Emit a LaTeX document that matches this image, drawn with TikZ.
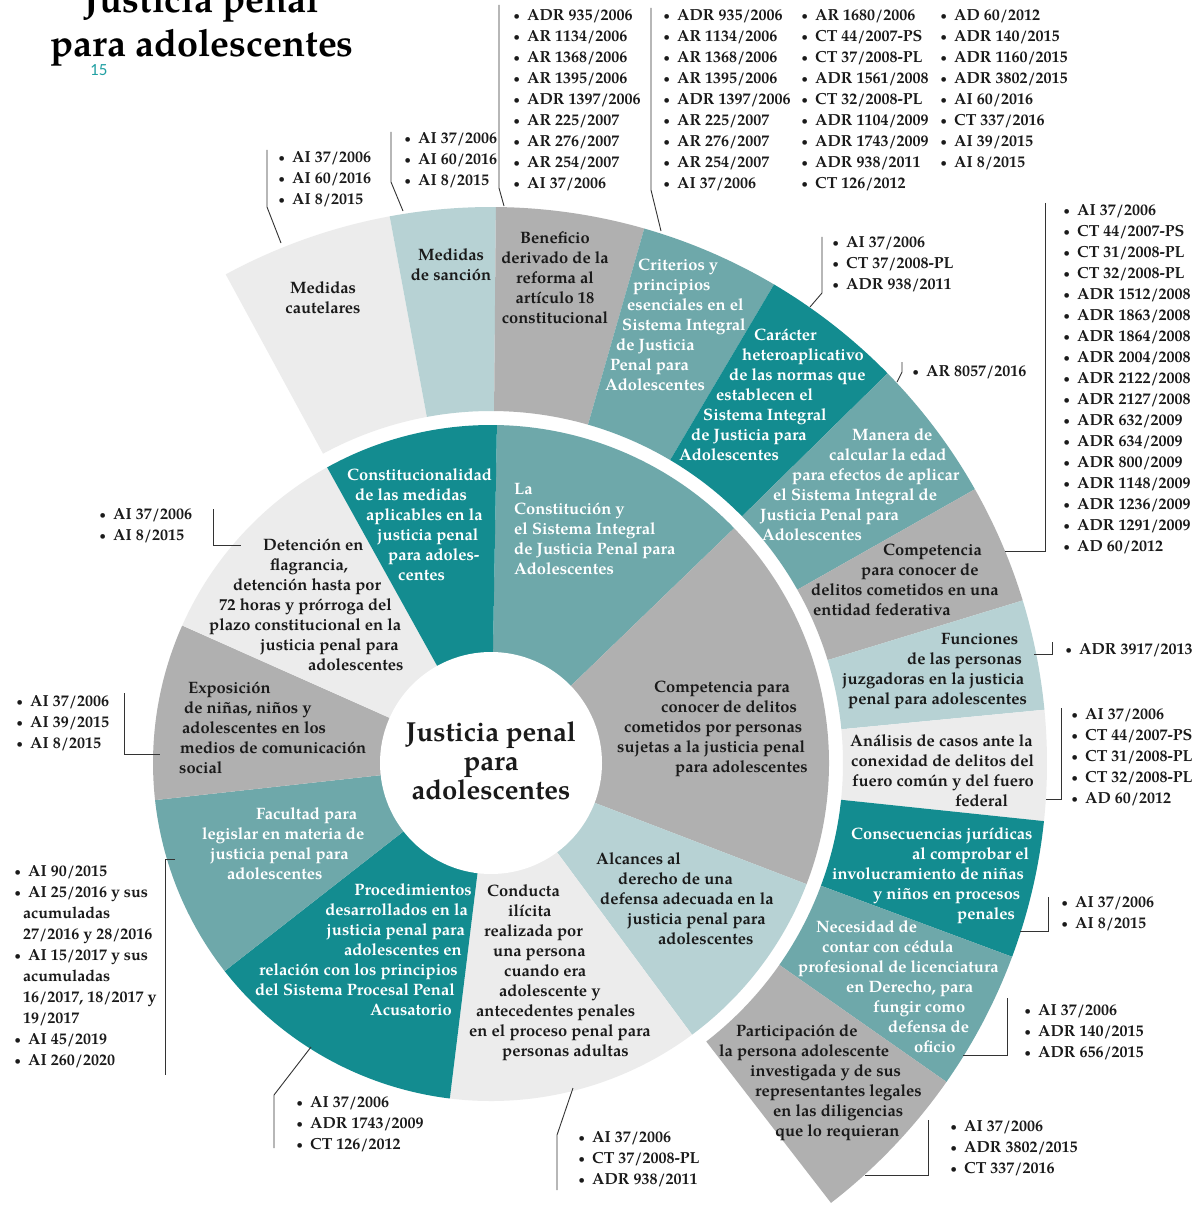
\documentclass[tikz,border=0pt]{standalone}
\usepackage{fontspec}
\setmainfont{TeX Gyre Pagella}
\newfontfamily\notefont{Carlito}
\definecolor{dteal}{HTML}{138C90}
\definecolor{mteal}{HTML}{6EA8AA}
\definecolor{lblue}{HTML}{B7D2D4}
\definecolor{mgray}{HTML}{B0B0B0}
\definecolor{lgray}{HTML}{ECECEC}
\definecolor{txt}{HTML}{1A1A1A}
\definecolor{linec}{HTML}{333333}
\definecolor{notec}{HTML}{22A0A3}
\tikzset{
 lbl/.style={inner sep=0pt, anchor=north west, align=left, yshift=-2.5pt, font=\fontsize{16.5}{20}\selectfont\bfseries},
 wl/.style={lbl, text=white},
 bl/.style={lbl, text=txt},
 lst/.style={inner sep=0pt, anchor=north west, align=left, yshift=-2.5pt, font=\fontsize{16}{21}\selectfont\bfseries, text=txt},
 conn/.style={draw=linec, line width=0.9pt},
}
\newcommand\sector[5]{\fill[#5] (#1:#3) arc[start angle=#1,end angle=#2,radius=#3] -- (#2:#4) arc[start angle=#2,end angle=#1,radius=#4] -- cycle;}
\newcommand\bu[1]{\makebox[14pt][l]{\hspace{0.5pt}\raisebox{1.6pt}{\fontsize{10.5}{10.5}\selectfont\textbullet}}#1}
\newcommand\ind[1]{\rule{#1pt}{0pt}}
\begin{document}
\begin{tikzpicture}[x=1pt,y=1pt]
\useasboundingbox (0,0) rectangle (1196,-1206);
\fill[white] (0,0) rectangle (1196,-1206);

% ---------- rings ----------
\begin{scope}[shift={(491,-763)}]
% outer ring
\sector{118.5}{100.5}{352}{556}{lgray}
\sector{100.5}{89.5}{352}{556}{lblue}
\sector{89.5}{74}{352}{556}{mgray}
\sector{74}{59.4}{352}{556}{mteal}
\sector{59.4}{44.5}{352}{556}{dteal}
\sector{44.5}{29.5}{352}{556}{mteal}
\sector{29.5}{17}{352}{556}{mgray}
\sector{17}{5.5}{352}{556}{lblue}
\sector{5.5}{-6}{352}{556}{lgray}
\sector{-6}{-20.4}{352}{556}{dteal}
\sector{-20.4}{-35}{352}{556}{mteal}
\sector{-35}{-52.3}{352}{556}{mgray}
% inner ring
\sector{89}{44}{100}{338}{mteal}
\sector{44}{-21}{100}{338}{mgray}
\sector{-21}{-53.5}{100}{338}{lblue}
\sector{-53.5}{-97}{100}{338}{lgray}
\sector{-97}{-142}{100}{338}{dteal}
\sector{-142}{-173.7}{100}{338}{mteal}
\sector{-173.7}{-204}{100}{338}{mgray}
\sector{-204}{-241}{100}{338}{lgray}
\sector{-241}{-271}{100}{338}{dteal}
\fill[white] (0,0) circle[radius=111];
\end{scope}

% ---------- title ----------
\node[font=\fontsize{37.8}{44}\selectfont\bfseries, anchor=base, inner sep=0pt, text=black] (t1) at (202,-13) {Justicia penal};
\node[font=\fontsize{37.8}{44}\selectfont\bfseries, anchor=base, inner sep=0pt, text=black] (t2) at (202,-57) {para adolescentes};
\node[font=\notefont\fontsize{17}{20}\selectfont, anchor=base west, inner sep=0pt, text=notec] (fn) at (90,-76) {15};

% ---------- center ----------
\node[font=\fontsize{27.5}{29}\selectfont\bfseries, align=center, text=txt, inner sep=0pt] (center) at (491,-761) {Justicia penal\\para\\adolescentes};

% ---------- outer labels ----------
\node[bl, anchor=north, align=center] (cautelares) at (323,-279) {Medidas\\cautelares};
\node[bl, anchor=north, align=center] (sancion) at (451,-246) {Medidas\\de sanción};
\node[bl, anchor=north, align=center] (beneficio) at (555,-229) {Beneficio\\derivado de la\\reforma al\\artículo 18\\constitucional};
\node[wl] (criterios) at (605,-256) {\ind{33}Criterios y\\\ind{28}principios\\\ind{22}esenciales en el\\\ind{17}Sistema Integral\\\ind{11}de Justicia\\\ind{5}Penal para\\Adolescentes};
\node[wl] (caracter) at (679,-326) {\ind{75}Carácter\\\ind{63}heteroaplicativo\\\ind{50}de las normas que\\\ind{37}establecen el\\\ind{24}Sistema Integral\\\ind{12}de Justicia para\\Adolescentes};
\node[wl] (manera) at (760,-426) {\ind{92}Manera de\\\ind{69}calcular la edad\\\ind{32}para efectos de aplicar\\\ind{13}el Sistema Integral de\\Justicia Penal para\\\ind{2}Adolescentes};
\node[bl] (compent) at (811,-541) {\ind{72}Competencia\\\ind{50}para conocer de\\delitos cometidos en una\\\ind{2}entidad federativa};
\node[bl] (funciones) at (842,-631) {\ind{99}Funciones\\\ind{65}de las personas\\juzgadoras en la justicia\\\ind{6}penal para adolescentes};
\node[bl] (analisis) at (850,-732) {Análisis de casos ante la\\\ind{1}conexidad de delitos del\\\ind{2}fuero común y del fuero\\\ind{105}federal};
\node[wl] (consec) at (832,-825) {\ind{19}Consecuencias jurídicas\\\ind{80}al comprobar el\\involucramiento de niñas\\\ind{41}y niños en procesos\\\ind{125}penales};
\node[wl] (necesidad) at (798,-918) {\ind{18}Necesidad de\\\ind{24}contar con cédula\\profesional de licenciatura\\\ind{48}en Derecho, para\\\ind{75}fungir como\\\ind{90}defensa de\\\ind{116}oficio};
\node[bl] (particip) at (719,-1022) {\ind{17}Participación de\\la persona adolescente\\\ind{31}investigada y de sus\\\ind{36}representantes legales\\\ind{54}en las diligencias\\\ind{56}que lo requieran};

% ---------- inner labels ----------
\node[wl] (constmed) at (347,-466) {Constitucionalidad\\\ind{8}de las medidas\\\ind{19}aplicables en la\\\ind{30}justicia penal\\\ind{41}para adoles-\\\ind{51}centes};
\node[wl] (laconst) at (514,-481) {La\\Constitución y\\el Sistema Integral\\de Justicia Penal para\\Adolescentes};
\node[bl] (compin) at (617,-678) {\ind{37}Competencia para\\\ind{44}conocer de delitos\\\ind{7}cometidos por personas\\sujetas a la justicia penal\\\ind{58}para adolescentes};
\node[bl] (alcances) at (596,-850) {Alcances al\\\ind{22}derecho de una\\\ind{4}defensa adecuada en la\\\ind{31}justicia penal para\\\ind{62}adolescentes};
\node[bl] (conducta) at (469,-882) {\ind{18}Conducta\\\ind{39}ilícita\\\ind{15}realizada por\\\ind{24}una persona\\\ind{35}cuando era\\\ind{30}adolescente y\\\ind{7}antecedentes penales\\en el proceso penal para\\\ind{33}personas adultas};
\node[wl, anchor=north east, align=right] (proced) at (472,-881) {Procedimientos\\desarrollados en la\ind{4}\\justicia penal para\ind{7}\\adolescentes en\ind{10}\\relación con los principios\ind{14}\\del Sistema Procesal Penal\ind{17}\\Acusatorio\ind{20}};
\node[wl] (facultad) at (202,-805) {\ind{54}Facultad para\\legislar en materia de\\\ind{8}justicia penal para\\\ind{25}adolescentes};
\node[bl] (exposicion) at (179,-679) {\ind{9}Exposición\\\ind{5}de niñas, niños y\\\ind{3}adolescentes en los\\\ind{1}medios de comunicación\\social};
\node[bl] (detencion) at (209,-536) {\ind{54}Detención en\\\ind{61}flagrancia,\\\ind{24}detención hasta por\\\ind{10}72 horas y prórroga del\\plazo constitucional en la\\\ind{51}justicia penal para\\\ind{99}adolescentes};

% ---------- lists ----------
\node[lst] (l1) at (278,-149) {\bu{AI 37/2006}\\\bu{AI 60/2016}\\\bu{AI 8/2015}};
\node[lst] (l2) at (404,-130) {\bu{AI 37/2006}\\\bu{AI 60/2016}\\\bu{AI 8/2015}};
\node[lst] (l3) at (513,-7) {\bu{ADR 935/2006}\\\bu{AR 1134/2006}\\\bu{AR 1368/2006}\\\bu{AR 1395/2006}\\\bu{ADR 1397/2006}\\\bu{AR 225/2007}\\\bu{AR 276/2007}\\\bu{AR 254/2007}\\\bu{AI 37/2006}};
\node[lst] (l4a) at (663,-7) {\bu{ADR 935/2006}\\\bu{AR 1134/2006}\\\bu{AR 1368/2006}\\\bu{AR 1395/2006}\\\bu{ADR 1397/2006}\\\bu{AR 225/2007}\\\bu{AR 276/2007}\\\bu{AR 254/2007}\\\bu{AI 37/2006}};
\node[lst] (l4b) at (801,-7) {\bu{AR 1680/2006}\\\bu{CT 44/2007-PS}\\\bu{CT 37/2008-PL}\\\bu{ADR 1561/2008}\\\bu{CT 32/2008-PL}\\\bu{ADR 1104/2009}\\\bu{ADR 1743/2009}\\\bu{ADR 938/2011}\\\bu{CT 126/2012}};
\node[lst] (l4c) at (940,-7) {\bu{AD 60/2012}\\\bu{ADR 140/2015}\\\bu{ADR 1160/2015}\\\bu{ADR 3802/2015}\\\bu{AI 60/2016}\\\bu{CT 337/2016}\\\bu{AI 39/2015}\\\bu{AI 8/2015}};
\node[lst] (l5) at (832,-234) {\bu{AI 37/2006}\\\bu{CT 37/2008-PL}\\\bu{ADR 938/2011}};
\node[lst] (l6) at (912,-363) {\bu{AR 8057/2016}};
\node[lst] (l7) at (1063,-202) {\bu{AI 37/2006}\\\bu{CT 44/2007-PS}\\\bu{CT 31/2008-PL}\\\bu{CT 32/2008-PL}\\\bu{ADR 1512/2008}\\\bu{ADR 1863/2008}\\\bu{ADR 1864/2008}\\\bu{ADR 2004/2008}\\\bu{ADR 2122/2008}\\\bu{ADR 2127/2008}\\\bu{ADR 632/2009}\\\bu{ADR 634/2009}\\\bu{ADR 800/2009}\\\bu{ADR 1148/2009}\\\bu{ADR 1236/2009}\\\bu{ADR 1291/2009}\\\bu{AD 60/2012}};
\node[lst] (l8) at (1065,-641) {\bu{ADR 3917/2013}};
\node[lst] (l9) at (1071,-706) {\bu{AI 37/2006}\\\bu{CT 44/2007-PS}\\\bu{CT 31/2008-PL}\\\bu{CT 32/2008-PL}\\\bu{AD 60/2012}};
\node[lst] (l10) at (1061,-894) {\bu{AI 37/2006}\\\bu{AI 8/2015}};
\node[lst] (l11) at (1024,-1002) {\bu{AI 37/2006}\\\bu{ADR 140/2015}\\\bu{ADR 656/2015}};
\node[lst] (l12) at (950,-1118) {\bu{AI 37/2006}\\\bu{ADR 3802/2015}\\\bu{CT 337/2016}};
\node[lst] (l13) at (99,-506) {\bu{AI 37/2006}\\\bu{AI 8/2015}};
\node[lst] (l14) at (16,-693) {\bu{AI 37/2006}\\\bu{AI 39/2015}\\\bu{AI 8/2015}};
\node[lst] (l15) at (14,-863) {\bu{AI 90/2015}\\\bu{AI 25/2016 y sus}\\\ind{9}acumuladas\\\ind{9}27/2016 y 28/2016\\\bu{AI 15/2017 y sus}\\\ind{9}acumuladas\\\ind{9}16/2017, 18/2017 y\\\ind{9}19/2017\\\bu{AI 45/2019}\\\bu{AI 260/2020}};
\node[lst] (l16) at (296,-1094) {\bu{AI 37/2006}\\\bu{ADR 1743/2009}\\\bu{CT 126/2012}};
\node[lst] (l17) at (578,-1129) {\bu{AI 37/2006}\\\bu{CT 37/2008-PL}\\\bu{ADR 938/2011}};

% ---------- connectors ----------
\draw[conn] (267,-150) coordinate (k1a) -- (267,-207) -- (281,-243) coordinate (k1b);
\draw[conn] (391,-132) coordinate (k2a) -- (391,-182) -- (403,-211) coordinate (k2b);
\draw[conn] (499,-5) coordinate (k3a) -- (499,-188) -- (504,-206) coordinate (k3b);
\draw[conn] (651,-8) coordinate (k4a) -- (651,-190) -- (661,-231) coordinate (k4b);
\draw[conn] (822,-237) coordinate (k5a) -- (822,-293) -- (810,-307) coordinate (k5b);
\draw[conn] (902,-362) coordinate (k6a) -- (902,-372) -- (897,-382) coordinate (k6b);
\draw[conn] (1045,-203) coordinate (k7a) -- (1045,-551) -- (1005,-551) coordinate (k7b);
\draw[conn] (1052,-642) coordinate (k8a) -- (1052,-654) -- (1034,-654) coordinate (k8b);
\draw[conn] (1061,-708) coordinate (k9a) -- (1061,-799) -- (1046,-799) coordinate (k9b);
\draw[conn] (1048,-897) coordinate (k10a) -- (1048,-931) -- (1020,-931) coordinate (k10b);
\draw[conn] (1007,-998) coordinate (k11a) -- (1007,-1055) -- (963,-1055) coordinate (k11b);
\draw[conn] (928,-1120) coordinate (k12a) -- (928,-1175) -- (865,-1175) coordinate (k12b);
\draw[conn] (213,-509) coordinate (k13a) -- (213,-545) -- (241,-545) coordinate (k13b);
\draw[conn] (124,-693) coordinate (k14a) -- (124,-754) -- (160,-754) coordinate (k14b);
\draw[conn] (175,-859) coordinate (k15a) -- (165,-859) -- (165,-1075) coordinate (k15b);
\draw[conn] (274,-1148) coordinate (k16a) -- (274,-1095) -- (311,-1047) coordinate (k16b);
\draw[conn] (557,-1190) coordinate (k17a) -- (557,-1135) -- (573,-1088) coordinate (k17b);
\end{tikzpicture}
\end{document}
